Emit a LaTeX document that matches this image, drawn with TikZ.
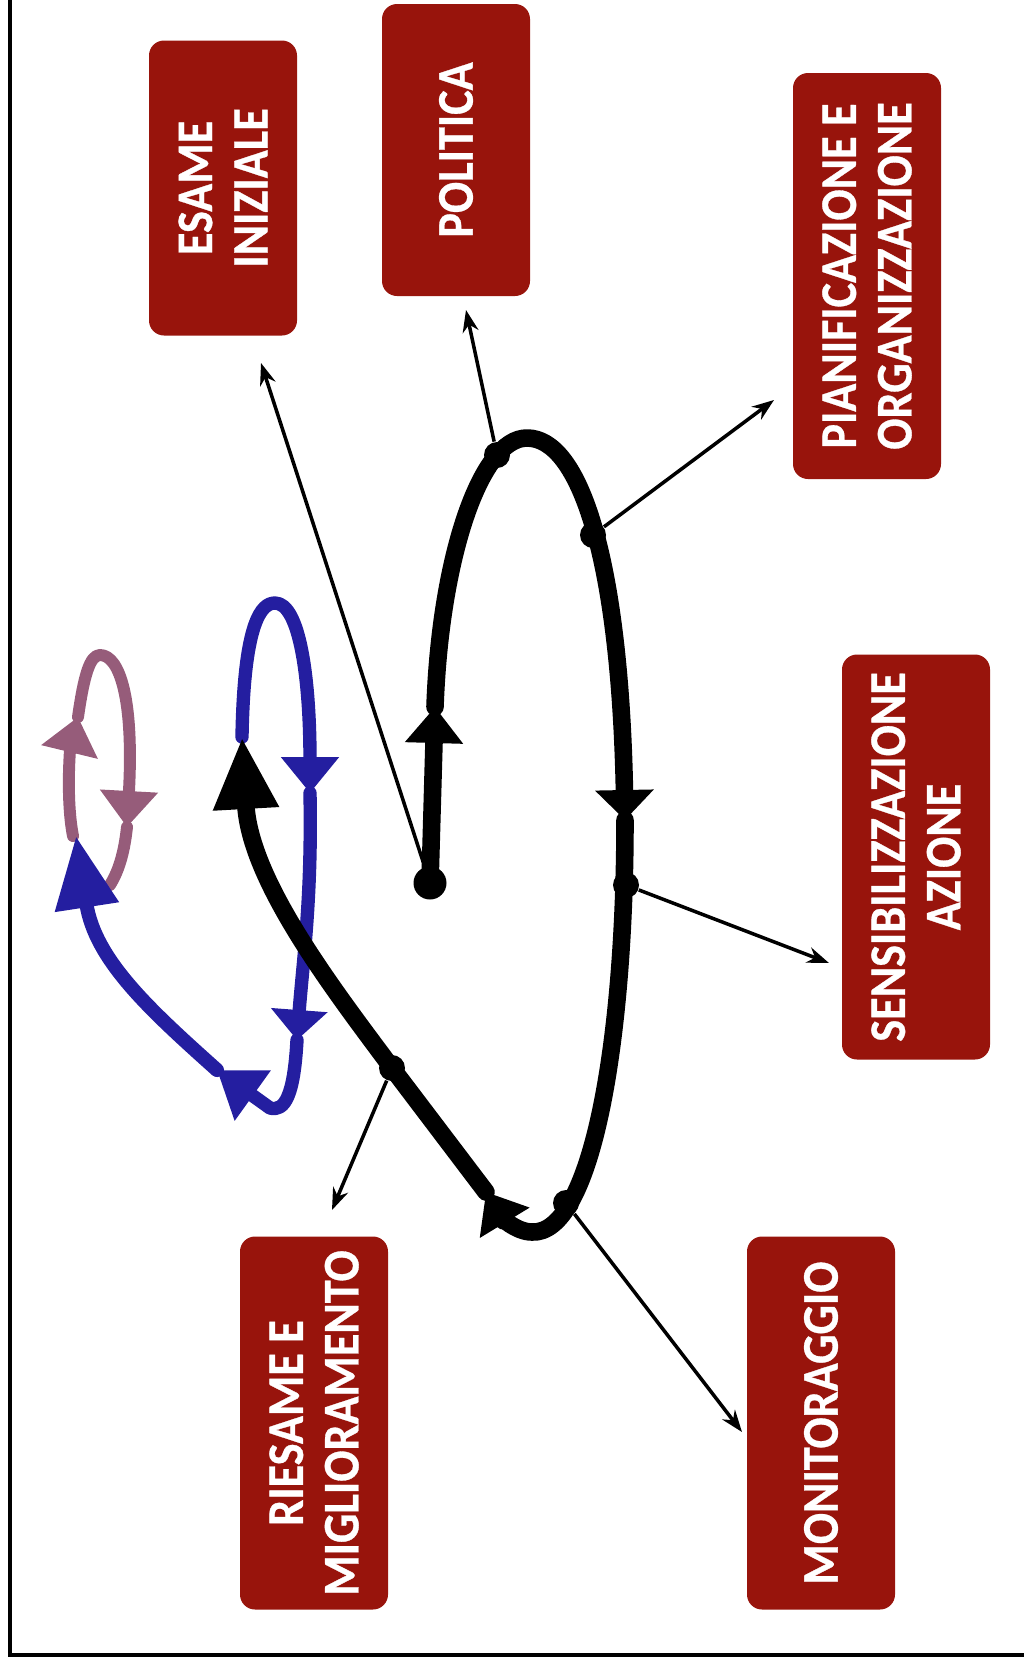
\documentclass[tikz,border=0pt]{standalone}
\usepackage{fontspec}
\newfontfamily\boxfont{Carlito}[FakeStretch=0.9, BoldFeatures={FakeBold=0.6}]
\usetikzlibrary{arrows.meta}
\definecolor{boxred}{RGB}{152,20,12}
\definecolor{loopblue}{RGB}{36,30,160}
\definecolor{loopmauve}{RGB}{150,92,122}

\begin{document}
\begin{tikzpicture}[
    x=0.1mm, y=-0.1mm,
    phasebox/.style={rectangle, rounded corners=1.5mm, fill=boxred, text=white, rotate=90, minimum height=14.8mm, align=center, inner sep=0pt, font=\boxfont\bfseries\fontsize{14.6}{15.8}\selectfont},
    knot/.style={circle, fill=black, inner sep=0pt, minimum size=2.6mm},
    link/.style={-{Stealth[length=2.2mm, width=1.6mm]}, line width=1pt},
    spiral/.style={line width=5pt, line cap=round, line join=round, -{Triangle[length=3.6mm, width=5.6mm]}},
    longtip/.style={-{Triangle[length=7.2mm, width=6.1mm]}},
    blueline/.style={spiral, draw=loopblue, line width=3.8pt},
    mauveline/.style={spiral, draw=loopmauve, line width=3.4pt}
]
    \useasboundingbox (0,0) rectangle (1024,1669);
    \draw[line width=1pt] (10,0) -- (10,1655) -- (1024,1655);

    % phases
    \node[phasebox, minimum width=29.5mm] (esame) at (223,188) {ESAME\\INIZIALE};
    \node[phasebox, minimum width=29.2mm] (politica) at (456,150) {POLITICA};
    \node[phasebox, minimum width=40.6mm] (pianif) at (867,276) {PIANIFICAZIONE E\\ORGANIZZAZIONE};
    \node[phasebox, minimum width=40.5mm] (sensib) at (916,857) {SENSIBILIZZAZIONE\\AZIONE};
    \node[phasebox, minimum width=37.3mm] (riesame) at (314,1423) {RIESAME E\\MIGLIORAMENTO};
    \node[phasebox, minimum width=37.3mm] (monitor) at (821,1423) {MONITORAGGIO};

    % small loops
    \draw[mauveline] (73,836) .. controls (66,800) and (70,750) .. (78,717);
    \draw[mauveline] (78,717) .. controls (84,675) and (90,655) .. (100,655) .. controls (120,655) and (134,700) .. (127,827);
    \draw[mauveline, -] (127,827) .. controls (124,855) and (118,872) .. (110,885);
    \draw[blueline] (242,737) .. controls (244,620) and (262,603) .. (275,603) .. controls (300,603) and (310,680) .. (310,793);
    \draw[blueline, -{Triangle[length=3mm, width=5.5mm]}] (310,793) .. controls (312,900) and (303,960) .. (297,1040);
    \draw[blueline, -{Triangle[length=4.4mm, width=5.9mm]}] (297,1040) .. controls (294,1095) and (285,1112) .. (270,1108) -- (217,1070);
    \draw[blueline, longtip, line width=4pt] (217,1070) .. controls (150,1010) and (95,960) .. (76,836);

    % main spiral
    \node[knot, minimum size=3.3mm] (dStart) at (430,883) {};
    \draw[spiral] (dStart.center) -- (435,707);
    \draw[spiral, -{Triangle[length=3mm, width=5.7mm]}] (435,707) .. controls (440,560) and (480,438) .. (527,438) .. controls (580,438) and (620,560) .. (625,820);
    \draw[spiral] (625,820) .. controls (625,1050) and (590,1235) .. (532,1232) .. controls (515,1232) and (500,1215) .. (486,1192);
    \draw[spiral, longtip] (486,1192) -- (392,1068) .. controls (330,985) and (250,880) .. (242,737);

    \node[knot] (dPol) at (497,455) {};
    \node[knot] (dPian) at (593,535) {};
    \node[knot] (dSens) at (626,885) {};
    \node[knot] (dMon) at (566,1203) {};
    \node[knot] (dRies) at (392,1068) {};

    \coordinate (tEsame) at (261,363);
    \coordinate (tPol) at (466,310);
    \coordinate (tPian) at (774,400);
    \coordinate (tSens) at (829,963);
    \coordinate (tMon) at (742,1432);
    \coordinate (tRies) at (332,1210);

    \draw[link] (dStart) -- (tEsame);
    \draw[link] (dPol) -- (tPol);
    \draw[link] (dPian) -- (tPian);
    \draw[link] (dSens) -- (tSens);
    \draw[link] (dMon) -- (tMon);
    \draw[link] (dRies) -- (tRies);
\end{tikzpicture}
\end{document}
